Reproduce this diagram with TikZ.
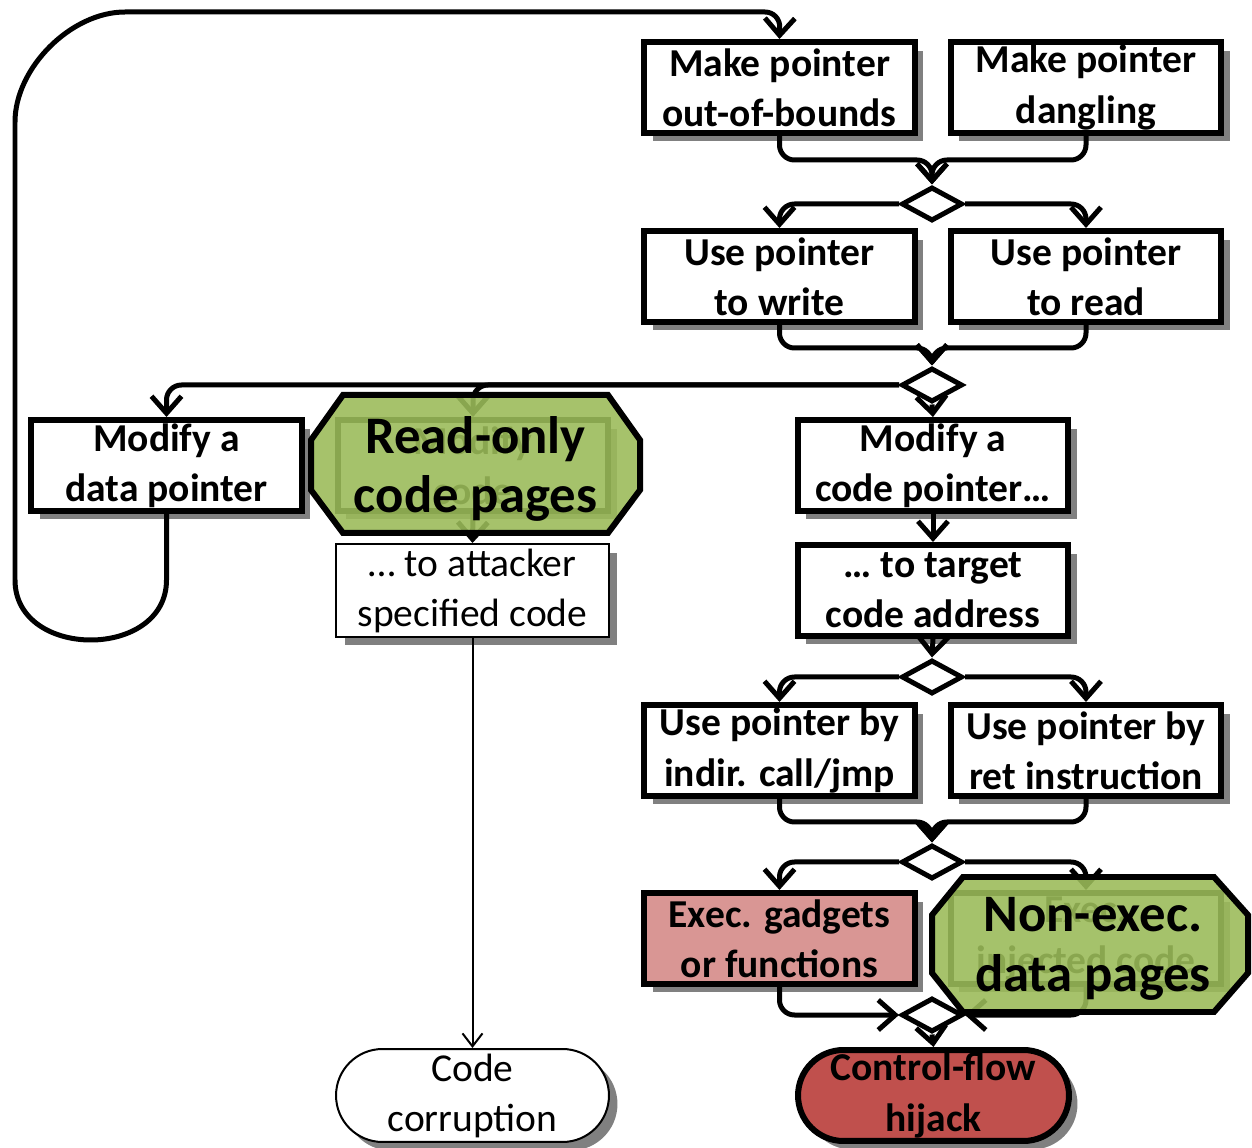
\documentclass[tikz,border=0pt]{standalone}
\usepackage{fontspec}
\setmainfont{Carlito}
\usetikzlibrary{arrows.meta,shapes.geometric,shapes.misc,shadows}
\definecolor{okgreen}{HTML}{9BBB59}
\definecolor{pinkfill}{HTML}{D99694}
\definecolor{cfred}{HTML}{C0504D}
\begin{document}
\begin{tikzpicture}[x=0.02cm,y=-0.02cm,
  boxfont/.style={font=\fontsize{22.5}{28.5}\selectfont\bfseries},
  shad/.style={drop shadow={shadow xshift=0.17cm,shadow yshift=-0.17cm,fill=black!50,opacity=1}},
  box/.style={draw, line width=0.12cm, fill=white, minimum width=5.42cm, minimum height=1.82cm, inner sep=0pt, align=center, boxfont, shad},
  thinbox/.style={draw, line width=0.04cm, fill=white, minimum width=5.46cm, minimum height=1.86cm, inner sep=0pt, align=center, font=\fontsize{22.5}{28.5}\selectfont, shad},
  conn/.style={line width=0.1cm, rounded corners=0.3cm},
  arr/.style={conn, -{Straight Barb[length=0.34cm,width=0.6cm]}},
  tarr/.style={line width=0.04cm, -{Straight Barb[length=0.26cm,width=0.4cm]}},
  dia/.style={draw, diamond, line width=0.1cm, fill=white, minimum width=1.22cm, minimum height=0.68cm, inner sep=0pt},
  oct/.style={draw, line width=0.12cm, fill=okgreen, fill opacity=0.89, draw opacity=1},
  octtext/.style={font=\fontsize{30}{34}\selectfont\bfseries, align=center}
]
\useasboundingbox (0,0) rectangle (1252,1148);

% boxes
\node[box] (A) at (779.5,87.5) {Make pointer\\out-of-bounds};
\node[box] (B) at (1086,87.5) {Make pointer\\dangling};
\node[box] (C) at (779.5,276.5) {Use pointer\\to write};
\node[box] (D) at (1086,276.5) {Use pointer\\to read};
\node[box] (E) at (166.5,465.5) {Modify a\\data pointer};
\node[box] (Mc) at (473,465.5) {Modify\\code};
\node[box] (F) at (933,465.5) {Modify a\\code pointer…};
\node[thinbox] (Att) at (472.5,590.5) {… to attacker\\specified code};
\node[box] (G) at (933,590.5) {… to target\\code address};
\node[box] (H) at (779.5,750.5) {Use pointer by\\indir. call/jmp};
\node[box] (I) at (1086,750.5) {Use pointer by\\ret instruction};
\node[box, fill=pinkfill] (J) at (779.5,938.5) {Exec. gadgets\\or functions};
\node[box] (K) at (1086,938.5) {Exec.\\injected code};
\node[thinbox, rounded rectangle] (CC) at (472.5,1095.5) {Code\\corruption};
\node[box, rounded rectangle, fill=cfred] (CF) at (933.5,1095.5) {Control-flow\\hijack};

% diamonds
\node[dia] (d1) at (932,204) {};
\node[dia] (d2) at (932,385) {};
\node[dia] (d3) at (932,677) {};
\node[dia] (d4) at (932,862) {};
\node[dia] (d5) at (932,1015) {};

% connectors
\coordinate (m1) at (932,160);
\draw[arr] (A.south) |- (m1) -- (d1.north);
\draw[arr] (B.south) |- (m1) -- (d1.north);
\draw[arr] (d1.west) -| (C.north);
\draw[arr] (d1.east) -| (D.north);
\coordinate (m2) at (932,348);
\draw[arr] (C.south) |- (m2) -- (d2.north);
\draw[arr] (D.south) |- (m2) -- (d2.north);
\draw[arr] (d2.west) -| (E.north);
\draw[arr] (d2.west) -| (Mc.north);
\draw[arr] (d2.south) -- (F.north);
\draw[arr] (F.south) -- (G.north);
\draw[arr] (G.south) -- (d3.north);
\draw[arr] (d3.west) -| (H.north);
\draw[arr] (d3.east) -| (I.north);
\coordinate (m4) at (932,822);
\draw[arr] (H.south) |- (m4) -- (d4.north);
\draw[arr] (I.south) |- (m4) -- (d4.north);
\draw[arr] (d4.west) -| (J.north);
\draw[arr] (d4.east) -| (K.north);
\draw[arr] (J.south) |- (d5.west);
\draw[arr] (K.south) |- (d5.east);
\draw[arr] (d5.south) -- (CF.north);
\draw[arr] (Mc.south) -- (Att.north);
\draw[tarr] (Att.south) -- (CC.north);
\draw[arr] (E.south) -- (166.5,565) .. controls (166.5,660) and (15,660) .. (15,565)
  -- (15,137) .. controls (15,68) and (71,12) .. (140,12) -- (780,12) -- (A.north);

% green octagons
\draw[oct] (311,440) -- (343,395) -- (608,395) -- (640,440) -- (640,490) -- (608,533) -- (343,533) -- (311,490) -- cycle;
\node[octtext] (ro) at (475.5,469) {Read-only\\code pages};
\draw[oct] (932,915) -- (963,877) -- (1214,877) -- (1248,915) -- (1248,973) -- (1214,1012) -- (963,1012) -- (932,973) -- cycle;
\node[octtext] (ne) at (1093,949) {Non-exec.\\data pages};
\end{tikzpicture}
\end{document}
